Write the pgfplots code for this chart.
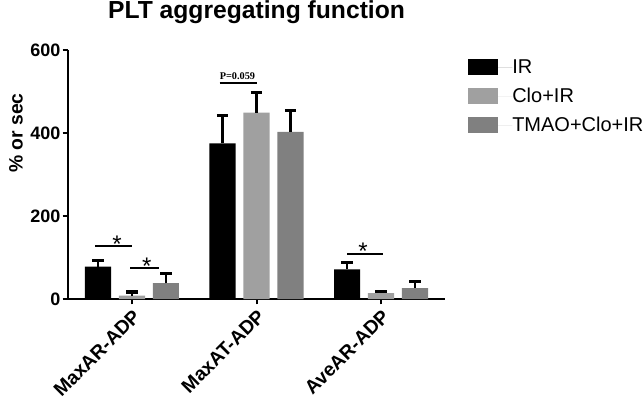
\documentclass[border=0pt]{standalone}
\usepackage{pgfplots}
\pgfplotsset{compat=1.18}
\usepackage{fontspec}
\setmainfont{Liberation Sans}
\newfontfamily\serifb{Liberation Serif}
\definecolor{cLight}{RGB}{160,160,160}
\definecolor{cDark}{RGB}{128,128,128}
\begin{document}
\begin{tikzpicture}[x=0.75pt,y=0.75pt]
\useasboundingbox (-68,-102) rectangle (576,299);
\begin{axis}[
 at={(0,0)}, anchor=south west,
 scale only axis, width=282.75pt, height=186.75pt,
 xmin=-0.514, xmax=2.514, ymin=0, ymax=600,
 axis x line=bottom, axis y line=left,
 axis line style={-, line width=1.5pt},
 tick align=outside, major tick length=4pt,
 tick style={line width=1.5pt, black},
 xtick={0,1,2}, xticklabels={MaxAR-ADP,MaxAT-ADP,AveAR-ADP},
 ytick={0,200,400,600},
 /pgf/number format/assume math mode=true,
 tick label style={font=\fontsize{13.5}{14}\selectfont\bfseries},
 yticklabel style={inner sep=1.5pt},
 xticklabel style={rotate=45, anchor=north east, inner sep=2pt, font=\fontsize{14.5}{15}\selectfont\bfseries},
 title={PLT aggregating function},
 title style={font=\fontsize{18.5}{19}\selectfont\bfseries, at={(rel axis cs:0.5,1)}, anchor=base, yshift=17.5pt},
 ybar, bar width=0.209,
 clip=false,
 legend style={at={(rel axis cs:1.061,0.964)}, anchor=north west, draw=none, fill=none, inner sep=0pt,
   font=\fontsize{15}{16}\selectfont, row sep=9.4pt, nodes={inner sep=0pt}},
 legend cell align=left,
]
\addplot[fill=black, draw=none, bar shift=-0.273,
  legend image code/.code={\fill[black] (0pt,-6pt) rectangle (22.5pt,6pt); \path (0pt,0pt) -- (33pt,0pt);},
  error bars/.cd, y dir=plus, y explicit,
  error bar style={line width=2.2pt, black},
  error mark options={rotate=90, line width=2.4pt, mark size=4.2pt, black}]
  coordinates {(0,78) +- (0,14.5) (1,375) +- (0,68) (2,71.6) +- (0,16)};
\addlegendentry{IR}
\addplot[fill=cLight, draw=none, bar shift=0,
  legend image code/.code={\fill[cLight] (0pt,-6pt) rectangle (22.5pt,6pt); \path (0pt,0pt) -- (33pt,0pt);},
  error bars/.cd, y dir=plus, y explicit,
  error bar style={line width=2.2pt, black},
  error mark options={rotate=90, line width=2.4pt, mark size=4.2pt, black}]
  coordinates {(0,8) +- (0,9) (1,449) +- (0,48) (2,14) +- (0,5)};
\addlegendentry{Clo+IR}
\addplot[fill=cDark, draw=none, bar shift=0.273,
  legend image code/.code={\fill[cDark] (0pt,-6pt) rectangle (22.5pt,6pt); \path (0pt,0pt) -- (33pt,0pt);},
  error bars/.cd, y dir=plus, y explicit,
  error bar style={line width=2.2pt, black},
  error mark options={rotate=90, line width=2.4pt, mark size=4.2pt, black}]
  coordinates {(0,38) +- (0,24) (1,403) +- (0,51) (2,26) +- (0,16)};
\addlegendentry{TMAO+Clo+IR}
% significance annotations
\draw[line width=1.2pt] (axis cs:-0.297,128) -- (axis cs:0,128);
\node[anchor=base, font=\fontsize{18}{18}\selectfont, inner sep=0pt] at (axis cs:-0.12,113) {*};
\draw[line width=1.2pt] (axis cs:-0.016,74) -- (axis cs:0.217,74);
\node[anchor=base, font=\fontsize{18}{18}\selectfont, inner sep=0pt] at (axis cs:0.118,60) {*};
\draw[line width=1.5pt] (axis cs:0.703,520) -- (axis cs:1.0,520);
\node[font=\serifb\bfseries\fontsize{7.7}{8}\selectfont, inner sep=0pt] at (axis cs:0.847,537) {P=0.059};
\draw[line width=1.2pt] (axis cs:1.727,108) -- (axis cs:2.016,108);
\node[anchor=base, font=\fontsize{18}{18}\selectfont, inner sep=0pt] at (axis cs:1.855,96) {*};
\node[rotate=90, font=\fontsize{14.5}{15}\selectfont\bfseries] at (axis cs:-0.932,400) {\% or sec};
\end{axis}
\end{tikzpicture}
\end{document}
